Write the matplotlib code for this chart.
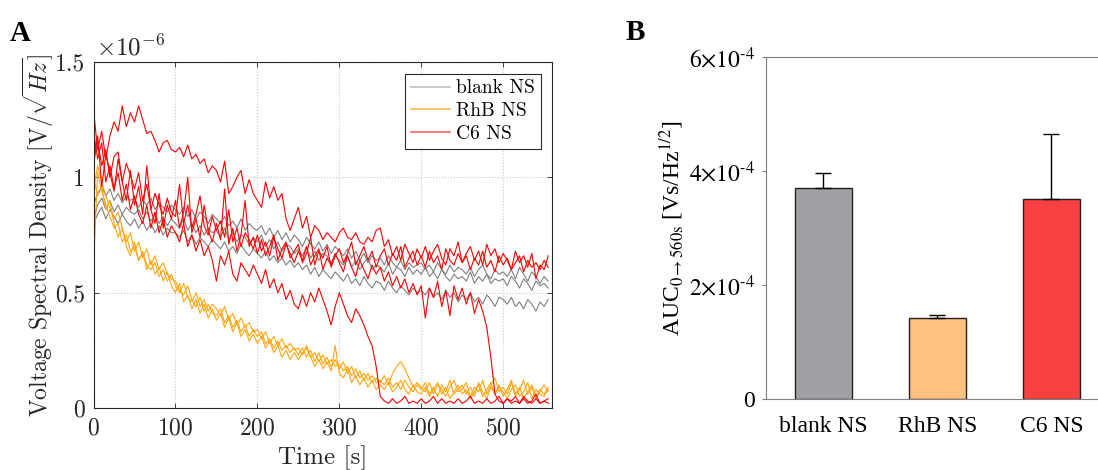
import matplotlib.pyplot as plt
import numpy as np
from matplotlib.lines import Line2D
from matplotlib.ticker import FuncFormatter

plt.rcParams['axes.formatter.use_mathtext'] = True
plt.rcParams['mathtext.fontset'] = 'stix'

# time axis, sampled every 5 s
t_s = np.arange(0, 556, 5)

# panel A: voltage spectral density (x 1e-6 V/sqrt(Hz))
blank_1 = [.88, .93, .96, .92, .95, .90, .93, .89, .92, .90,
           .91, .87, .90, .88, .91, .86, .89, .87, .85, .88,
           .86, .84, .87, .83, .86, .82, .85, .83, .80, .84,
           .82, .80, .83, .79, .81, .78, .82, .77, .80, .78,
           .77, .79, .75, .78, .74, .77, .73, .76, .72, .75,
           .73, .70, .74, .71, .69, .72, .68, .71, .67, .70,
           .68, .66, .69, .65, .68, .64, .67, .63, .66, .64,
           .65, .62, .66, .63, .61, .64, .60, .63, .61, .62,
           .63, .60, .62, .59, .63, .60, .58, .62, .59, .61,
           .60, .58, .61, .57, .60, .62, .58, .56, .60, .58,
           .59, .57, .60, .56, .61, .58, .55, .59, .57, .54,
           .57, .55]
blank_2 = [.82, .88, .91, .86, .90, .85, .88, .84, .87, .85,
           .84, .86, .82, .85, .81, .84, .80, .83, .79, .82,
           .80, .78, .82, .77, .80, .76, .79, .75, .78, .76,
           .77, .74, .78, .73, .76, .72, .75, .74, .71, .74,
           .72, .75, .70, .73, .69, .72, .68, .71, .70, .67,
           .69, .66, .70, .65, .68, .64, .67, .66, .63, .66,
           .64, .62, .66, .61, .64, .60, .63, .65, .60, .62,
           .61, .59, .63, .58, .61, .60, .57, .61, .58, .60,
           .58, .61, .57, .59, .56, .60, .57, .55, .58, .56,
           .57, .55, .59, .54, .57, .55, .58, .54, .56, .55,
           .56, .53, .57, .55, .52, .56, .54, .51, .55, .53,
           .54, .52]
blank_3 = [.80, .84, .87, .82, .86, .83, .80, .84, .81, .79,
           .82, .78, .81, .77, .80, .76, .79, .75, .78, .76,
           .76, .74, .77, .72, .75, .71, .74, .72, .70, .73,
           .71, .69, .72, .68, .70, .67, .71, .68, .66, .69,
           .67, .65, .68, .64, .66, .63, .65, .62, .64, .61,
           .63, .60, .62, .58, .61, .57, .60, .58, .56, .59,
           .57, .55, .58, .54, .56, .53, .57, .54, .52, .55,
           .54, .51, .55, .52, .50, .53, .51, .49, .52, .50,
           .51, .49, .52, .48, .50, .47, .51, .48, .50, .46,
           .49, .47, .50, .46, .48, .45, .49, .47, .44, .48,
           .47, .45, .48, .44, .46, .43, .47, .45, .42, .46,
           .44, .47]

rhb_1 = [.62, 1.02, .94, .88, .83, .78, .80, .72, .75, .68,
         .70, .64, .67, .62, .60, .63, .57, .60, .55, .58,
         .53, .50, .54, .48, .46, .50, .44, .47, .42, .45,
         .43, .40, .44, .38, .41, .36, .39, .35, .37, .33,
         .34, .30, .33, .28, .31, .27, .30, .26, .28, .25,
         .26, .23, .27, .22, .24, .20, .23, .19, .21, .18,
         .19, .16, .18, .14, .17, .13, .15, .12, .14, .11,
         .12, .10, .13, .09, .11, .08, .12, .09, .07, .10,
         .08, .11, .06, .09, .05, .10, .07, .12, .06, .08,
         .10, .06, .09, .05, .11, .07, .04, .09, .06, .10,
         .05, .08, .12, .06, .09, .04, .07, .10, .05, .08,
         .06, .09]
rhb_2 = [.95, 1.05, .98, .92, .87, .82, .85, .78, .72, .76,
         .68, .72, .65, .69, .62, .66, .60, .63, .58, .56,
         .55, .51, .49, .53, .47, .44, .48, .42, .45, .41,
         .40, .43, .37, .40, .35, .38, .33, .36, .31, .34,
         .31, .33, .28, .30, .26, .29, .25, .27, .24, .26,
         .23, .26, .22, .25, .20, .24, .19, .22, .18, .21,
         .17, .20, .15, .18, .13, .16, .12, .15, .11, .13,
         .11, .14, .10, .15, .18, .20, .17, .13, .09, .11,
         .09, .07, .11, .06, .10, .08, .05, .09, .12, .07,
         .08, .11, .05, .09, .07, .12, .06, .10, .13, .07,
         .09, .06, .11, .05, .08, .12, .06, .09, .04, .07,
         .10, .07]
rhb_3 = [1.00, .92, .96, .86, .90, .80, .74, .78, .70, .66,
         .72, .64, .68, .60, .64, .58, .61, .55, .59, .53,
         .50, .54, .46, .49, .43, .47, .41, .45, .39, .43,
         .38, .41, .35, .39, .33, .37, .31, .34, .29, .32,
         .28, .31, .26, .29, .24, .27, .22, .25, .21, .24,
         .21, .24, .26, .22, .18, .21, .17, .20, .16, .27,
         .15, .13, .17, .11, .14, .10, .13, .09, .12, .08,
         .10, .08, .11, .07, .09, .12, .08, .06, .10, .07,
         .06, .09, .05, .08, .11, .06, .09, .04, .07, .10,
         .06, .08, .04, .07, .10, .05, .08, .11, .06, .09,
         .07, .04, .08, .10, .05, .07, .11, .04, .08, .06,
         .05, .08]

c6_1 = [1.29, 1.12, 1.20, 1.08, 1.18, 1.24, 1.20, 1.31, 1.22, 1.28,
        1.24, 1.31, 1.25, 1.19, 1.20, 1.16, 1.11, 1.15, 1.16, 1.12,
        1.11, 1.13, 1.09, 1.14, 1.08, 1.10, 1.06, 1.08, 1.02, 1.05,
        1.03, .98, 1.07, .93, .96, 1.00, 1.03, .93, .99, .93,
        .90, .87, .98, .91, .96, .90, .93, .82, .77, .82,
        .87, .78, .83, .74, .79, .77, .73, .76, .74, .72,
        .76, .78, .74, .73, .76, .72, .71, .74, .72, .77,
        .78, .70, .73, .66, .70, .64, .71, .67, .63, .69,
        .65, .70, .64, .68, .71, .65, .62, .69, .66, .72,
        .63, .67, .70, .64, .68, .62, .71, .66, .69, .63,
        .67, .64, .60, .68, .63, .66, .61, .67, .56, .62,
        .60, .66]
c6_2 = [1.20, 1.08, 1.15, .98, 1.05, .95, 1.02, .90, .97, .86,
        .92, .84, .80, .88, .78, .85, .76, .82, .74, .79,
        .76, .72, .80, .70, .75, .68, .73, .66, .70, .64,
        .55, .66, .62, .68, .58, .55, .63, .60, .57, .62,
        .58, .54, .60, .52, .56, .50, .54, .47, .51, .45,
        .43, .49, .44, .50, .46, .52, .47, .42, .36, .44,
        .50, .45, .40, .37, .43, .40, .36, .31, .27, .18,
        .05, .03, .02, .04, .02, .03, .05, .02, .03, .02,
        .04, .02, .03, .05, .02, .04, .02, .03, .02, .04,
        .02, .03, .05, .02, .03, .02, .04, .02, .03, .05,
        .02, .04, .02, .03, .02, .05, .03, .02, .04, .02,
        .03, .02]
c6_3 = [1.10, 1.16, 1.05, 1.12, 1.00, 1.09, 1.11, .98, 1.06, 1.01,
        .95, 1.02, .90, .97, .86, .93, .88, .84, .91, .85,
        .83, .97, .80, .88, .78, .84, .92, .79, .75, .83,
        .77, .81, .74, .86, .72, .78, .70, .76, .73, .69,
        .75, .68, .72, .66, .74, .69, .65, .71, .67, .63,
        .68, .64, .70, .62, .66, .69, .60, .65, .62, .67,
        .63, .59, .66, .61, .57, .64, .60, .56, .62, .58,
        .61, .55, .59, .53, .57, .52, .56, .50, .54, .49,
        .53, .39, .52, .48, .55, .44, .51, .40, .53, .47,
        .52, .45, .50, .41, .47, .42, .35, .22, .06, .03,
        .02, .04, .03, .05, .02, .04, .02, .03, .06, .02,
        .03, .04]
c6_4 = [1.05, 1.18, .96, 1.10, 1.02, .94, 1.08, .98, .90, 1.03,
        .88, .96, .84, 1.05, .86, .80, .93, .78, .88, .82,
        .90, .78, .85, 1.00, .76, .82, .74, .88, .77, .72,
        .80, .73, .95, .71, .78, .68, .75, .90, .70, .74,
        .67, .73, .66, .70, .75, .64, .69, .72, .65, .68,
        .71, .63, .67, .74, .62, .68, .65, .70, .61, .66,
        .69, .63, .67, .72, .62, .66, .70, .64, .68, .61,
        .66, .69, .62, .67, .64, .70, .61, .65, .68, .62,
        .66, .61, .68, .63, .66, .60, .69, .64, .62, .67,
        .63, .66, .60, .65, .62, .68, .61, .64, .59, .66,
        .62, .65, .60, .63, .66, .59, .64, .61, .63, .60,
        .64, .61]

# panel B: area under curve, 0 -> 560 s
groups = ['blank NS', 'RhB NS', 'C6 NS']
auc_mean = [3.71e-4, 1.43e-4, 3.51e-4]
auc_err = [0.25e-4, 0.05e-4, 1.14e-4]
bar_colors = ['#a19fa4', '#ffc080', '#f74040']

fig = plt.figure(figsize=(10.98, 4.7), dpi=100)
axA = fig.add_axes([0.0852, 0.132, 0.4178, 0.736])
axB = fig.add_axes([0.6976, 0.151, 0.3015, 0.7277])

# ---- A
for y in [blank_1, blank_2, blank_3]:
    axA.plot(t_s, y, color='#7f7f7f', lw=0.8)
for y in [rhb_1, rhb_2, rhb_3]:
    axA.plot(t_s, y, color='#ffa510', lw=0.8)
for y in [c6_1, c6_2, c6_3, c6_4]:
    axA.plot(t_s, y, color='#ff0000', lw=0.8)

axA.set_xlim(0, 560)
axA.set_ylim(0, 1.5)
axA.set_xticks([0, 100, 200, 300, 400, 500])
axA.set_yticks([0, 0.5, 1, 1.5])
axA.yaxis.set_major_formatter(FuncFormatter(lambda v, p: f'{v:g}'))
axA.grid(True, ls=':', color='#c8c8c8', lw=0.8)
axA.tick_params(direction='in', top=True, right=True, length=3.5, width=0.6,
                colors='#262626', labelsize=17, labelfontfamily='cmr10')
axA.tick_params(axis='x', pad=7)
axA.tick_params(axis='y', pad=6)
for s in axA.spines.values():
    s.set_color('#262626')
    s.set_linewidth(0.8)

axA.set_xlabel('Time [s]', fontsize=18, family='cmr10', color='#262626', labelpad=4)
axA.set_ylabel(r'Voltage Spectral Density $[\mathrm{V}/\sqrt{Hz}]$', fontsize=17,
               family='cmr10', math_fontfamily='cm', color='#262626', labelpad=-1)
axA.text(0.005, 1.005, r'$\times10^{-6}$', transform=axA.transAxes, fontsize=18,
         math_fontfamily='cm', color='#262626', ha='left', va='bottom')

handles = [Line2D([], [], color='#c0c0c0', lw=1.2),
           Line2D([], [], color='#ffb84d', lw=1.2),
           Line2D([], [], color='#ff6060', lw=1.2)]
leg = axA.legend(handles, ['blank NS', 'RhB NS', 'C6 NS'], loc='upper right',
                 prop={'family': 'cmr10', 'size': 14}, fancybox=False,
                 framealpha=1, edgecolor='#262626', handlelength=2.0,
                 handletextpad=0.3, labelspacing=0.25, borderpad=0.3,
                 borderaxespad=0.6)
leg.get_frame().set_linewidth(0.8)

# ---- B
x = np.arange(1, len(groups) + 1)
axB.bar(x, auc_mean, width=0.5, color=bar_colors, edgecolor='#222222', lw=1,
        yerr=[np.zeros(len(auc_err)), auc_err], capsize=5.5,
        error_kw=dict(ecolor='black', elinewidth=1, capthick=1))
axB.set_xlim(0.5, 3.4)
axB.set_ylim(0, 6e-4)
axB.set_xticks(x)
axB.set_xticklabels(groups)
axB.set_yticks([0, 2e-4, 4e-4, 6e-4])
axB.yaxis.set_major_formatter(FuncFormatter(
    lambda v, p: '0' if v == 0 else rf'${v / 1e-4:.0f}{{\times}}10^{{\text{{-4}}}}$'))
axB.spines['right'].set_visible(False)
for k in ['left', 'bottom', 'top']:
    axB.spines[k].set_color('#808080')
    axB.spines[k].set_linewidth(0.8)
axB.tick_params(axis='y', direction='out', length=3, width=0.8, color='#808080',
                labelsize=17, labelfontfamily='Liberation Serif', pad=5)
axB.tick_params(axis='x', length=0, labelsize=17, labelfontfamily='Liberation Serif', pad=12)
axB.set_ylabel(r'AUC$_{0\rightarrow\mathrm{560s}}$ [Vs/Hz$^{1/2}$]', fontsize=17,
               family='Liberation Serif', labelpad=2)

fig.text(10 / 1098, 1 - 41 / 470, 'A', fontsize=21, fontweight='bold',
         family='Liberation Serif', va='baseline')
fig.text(626 / 1098, 1 - 40 / 470, 'B', fontsize=21, fontweight='bold',
         family='Liberation Serif', va='baseline')

fig.savefig('out.png', dpi=100)
